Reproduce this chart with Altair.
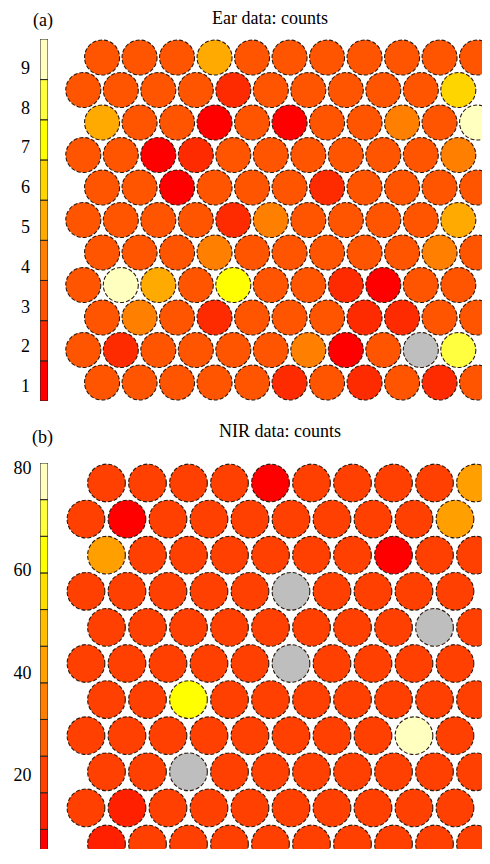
import altair as alt
import pandas as pd

# ---------------- data ----------------
# Ear data: counts per SOM node (11 rows x 11 columns, top row first); 0 = empty node
EAR_COUNTS = [
    [3, 3, 3, 5, 3, 3, 3, 3, 3, 3, 3],
    [3, 3, 3, 3, 2, 3, 3, 3, 3, 3, 6],
    [5, 3, 3, 1, 3, 1, 3, 3, 4, 3, 9],
    [3, 3, 1, 2, 3, 3, 3, 3, 3, 3, 4],
    [3, 3, 1, 3, 3, 3, 2, 3, 3, 3, 3],
    [3, 3, 3, 3, 2, 4, 3, 3, 3, 3, 5],
    [3, 3, 3, 4, 3, 3, 3, 3, 3, 4, 3],
    [3, 9, 5, 3, 7, 3, 3, 2, 1, 3, 3],
    [3, 4, 3, 2, 3, 3, 3, 2, 2, 3, 3],
    [3, 2, 3, 3, 3, 3, 4, 1, 3, 0, 8],
    [3, 3, 3, 3, 3, 2, 3, 2, 3, 2, 3],
]

# NIR data: counts per SOM node (11 rows x 10 columns, top row first); 0 = empty node
NIR_COUNTS = [
    [20, 20, 20, 20, 6, 20, 20, 20, 20, 42],
    [20, 6, 20, 20, 20, 20, 20, 20, 20, 42],
    [42, 20, 20, 20, 20, 20, 20, 6, 20, 20],
    [20, 20, 20, 20, 20, 0, 20, 20, 20, 20],
    [20, 20, 20, 20, 20, 20, 20, 20, 0, 20],
    [20, 20, 20, 20, 20, 0, 20, 20, 20, 20],
    [20, 20, 63, 20, 20, 20, 20, 20, 20, 20],
    [20, 20, 20, 20, 20, 20, 20, 20, 79, 20],
    [20, 20, 0, 20, 20, 20, 20, 20, 20, 20],
    [20, 13, 20, 20, 20, 20, 20, 20, 20, 20],
    [13, 20, 20, 20, 20, 20, 20, 20, 20, 20],
]

# colour-bar bin edges (bottom to top)
EAR_EDGES = [0.64, 1.65, 2.66, 3.67, 4.68, 5.69, 6.70, 7.71, 8.72, 9.74]
NIR_EDGES = [2.4, 9.55, 16.7, 23.85, 31.0, 38.15, 45.3, 52.45, 59.6, 66.75, 73.9, 81.05]
NIR_VISIBLE_MIN = 5.72   # value at the lower edge of the page

EAR_COLORS = ["#FF0000", "#FF2B00", "#FF5500", "#FF8000", "#FFAA00",
              "#FFD500", "#FFFF00", "#FFFF40", "#FFFFBF"]
NIR_COLORS = ["#FF0000", "#FF2000", "#FF4000", "#FF6000", "#FF8000", "#FF9F00",
              "#FFBF00", "#FFDF00", "#FFFF00", "#FFFF40", "#FFFFBF"]
EMPTY_COLOR = "#BEBEBE"

EAR_TICKS = [1, 2, 3, 4, 5, 6, 7, 8, 9]
NIR_TICKS = [20, 40, 60, 80]

FONT = "Liberation Serif"


def node_frame(counts):
    recs = []
    for r, row in enumerate(counts):
        for c, v in enumerate(row):
            recs.append({"row": r, "col": c + (0.5 if r % 2 == 0 else 0.0), "count": v})
    return pd.DataFrame(recs)


def color_scale(edges, colors):
    return alt.Scale(type="threshold", domain=edges[:-1], range=[EMPTY_COLOR] + colors)


def title(text, offset, dx):
    return alt.TitleParams(text=text, font=FONT, fontSize=18, fontWeight="normal",
                           color="black", anchor="middle", frame="group",
                           baseline="top", offset=offset, dx=dx)


def grid_chart(counts, edges, colors, xdom, ydom, size, width, height, ttl):
    return alt.Chart(node_frame(counts)).mark_circle(
        size=size, opacity=1, stroke="#2a1a10", strokeWidth=1.1,
        strokeDash=[4, 2], clip=True
    ).encode(
        x=alt.X("col:Q", scale=alt.Scale(domain=xdom, nice=False, zero=False), axis=None),
        y=alt.Y("row:Q", scale=alt.Scale(domain=ydom, nice=False, zero=False, reverse=True), axis=None),
        color=alt.Color("count:Q", scale=color_scale(edges, colors), legend=None),
    ).properties(width=width, height=height, title=ttl)


def colorbar(edges, colors, ticks, ymin, height, pad, ttl):
    bins = pd.DataFrame({
        "lo": edges[:-1],
        "hi": edges[1:],
        "mid": [(a + b) / 2 for a, b in zip(edges[:-1], edges[1:])],
    })
    return alt.Chart(bins).mark_rect(stroke="#222222", strokeWidth=1, clip=True).encode(
        y=alt.Y("lo:Q", scale=alt.Scale(domain=[ymin, edges[-1]], nice=False, zero=False),
                axis=alt.Axis(values=ticks, ticks=False, domain=False, grid=False, title=None,
                              labelFont=FONT, labelFontSize=18, labelColor="black",
                              labelPadding=pad, minExtent=32, maxExtent=32, format="d")),
        y2="hi:Q",
        x=alt.value(0),
        x2=alt.value(8),
        color=alt.Color("mid:Q", scale=color_scale(edges, colors), legend=None),
    ).properties(width=8, height=height, title=ttl)


cb_a = colorbar(EAR_EDGES, EAR_COLORS, EAR_TICKS, EAR_EDGES[0], 362, 10.5, title("(a)", 9, -1))
grid_a = grid_chart(EAR_COUNTS, EAR_EDGES, EAR_COLORS,
                    [-0.568, 10.632], [-0.569, 10.569], 1225, 420, 362,
                    title("Ear data: counts", 11, -2))

cb_b = colorbar(NIR_EDGES, NIR_COLORS, NIR_TICKS, NIR_VISIBLE_MIN, 386, 9, title("(b)", 12, -1.5))
grid_b = grid_chart(NIR_COUNTS, NIR_EDGES, NIR_COLORS,
                    [-0.585, 9.659], [-0.554, 10.139], 1421, 420, 386,
                    title("NIR data: counts", 22, 8))

chart = alt.concat(
    cb_a, grid_a, cb_b, grid_b,
    columns=2,
    spacing={"row": 62, "column": 14},
    bounds="flush",
).resolve_scale(
    color="independent", x="independent", y="independent"
).properties(
    padding={"top": 2, "left": 0, "right": 0, "bottom": 0}
).configure_view(
    strokeWidth=0
)

chart.save("out.html", embed_options={"renderer": "svg", "actions": False})
